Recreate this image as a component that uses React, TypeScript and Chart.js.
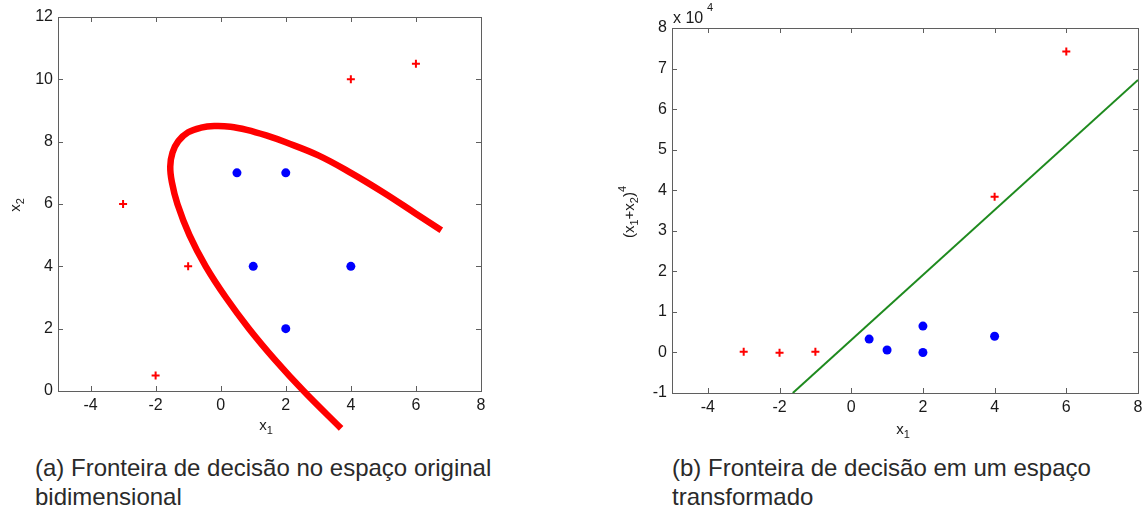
import React, { useEffect, useRef } from "react";
import { Chart, registerables } from "chart.js";

Chart.register(...registerables);

// ---------- data (a): original space ----------
const redX1 = [-3, -2, -1, 4, 6];
const redY1 = [6, 0.5, 4, 10, 10.5];
const blueX1 = [0.5, 2, 1, 4, 2];
const blueY1 = [7, 7, 4, 4, 2];
const curveX = [3.7, 2.55, 1.67, 0.87, 0.16, -0.46, -0.96, -1.33, -1.5, -1.55, -1.48, -1.3, -1.0, -0.6, -0.2, 0.3, 0.8, 1.4, 2.0, 3.0, 4.0, 5.0, 6.0, 6.78];
const curveY = [-1.2, 0, 1, 2, 3, 4, 5, 6, 6.7, 7.2, 7.65, 8.02, 8.3, 8.45, 8.5, 8.48, 8.38, 8.2, 7.98, 7.56, 7.0, 6.37, 5.69, 5.16];
const xTicks = [-4, -2, 0, 2, 4, 6, 8];
const yTicks1 = [0, 2, 4, 6, 8, 10, 12];

// ---------- data (b): transformed space (units of 10^4) ----------
const redX2 = [-3, -2, -1, 4, 6];
const redY2 = [0.02, -0.01, 0.02, 3.84, 7.42];
const blueX2 = [0.5, 1, 2, 2, 4];
const blueY2 = [0.33, 0.06, 0.65, 0.0, 0.4];
const lineX = [-1.63, 8];
const lineY = [-1, 6.72];
const yTicks2 = [-1, 0, 1, 2, 3, 4, 5, 6, 7, 8];

const captionA = ["(a) Fronteira de decisão no espaço original", "bidimensional"];
const captionB = ["(b) Fronteira de decisão em um espaço", "transformado"];

const FONT = "'Liberation Sans', Arial, sans-serif";
const AXIS_COLOR = "#5f5f5f";
const TEXT_COLOR = "#1a1a1a";

type Seg = { t: string; sub?: boolean; sup?: boolean };

function drawRich(ctx: CanvasRenderingContext2D, segs: Seg[], x: number, y: number, size: number) {
  const small = Math.round(size * 0.7);
  let total = 0;
  const widths = segs.map((s) => {
    ctx.font = `${s.sub || s.sup ? small : size}px ${FONT}`;
    const w = ctx.measureText(s.t).width;
    total += w;
    return w;
  });
  let cx = x - total / 2;
  ctx.textBaseline = "middle";
  ctx.textAlign = "left";
  segs.forEach((s, i) => {
    ctx.font = `${s.sub || s.sup ? small : size}px ${FONT}`;
    const dy = s.sub ? size * 0.35 : s.sup ? -size * 0.45 : 0;
    ctx.fillText(s.t, cx, y + dy);
    cx += widths[i];
  });
}

function framePlugin(extra: (chart: any, ctx: CanvasRenderingContext2D) => void) {
  return {
    id: "frame",
    beforeDatasetsDraw(chart: any) {
      const { ctx, chartArea: a, scales } = chart;
      ctx.save();
      ctx.strokeStyle = AXIS_COLOR;
      ctx.lineWidth = 1;
      ctx.strokeRect(Math.round(a.left) + 0.5, Math.round(a.top) + 0.5, Math.round(a.right - a.left), Math.round(a.bottom - a.top));
      const tl = 5;
      ctx.beginPath();
      scales.x.ticks.forEach((t: any) => {
        const px = Math.round(scales.x.getPixelForValue(t.value)) + 0.5;
        ctx.moveTo(px, a.bottom);
        ctx.lineTo(px, a.bottom - tl);
        ctx.moveTo(px, a.top);
        ctx.lineTo(px, a.top + tl);
      });
      scales.y.ticks.forEach((t: any) => {
        const py = Math.round(scales.y.getPixelForValue(t.value)) + 0.5;
        ctx.moveTo(a.left, py);
        ctx.lineTo(a.left + tl, py);
        ctx.moveTo(a.right, py);
        ctx.lineTo(a.right - tl, py);
      });
      ctx.stroke();
      ctx.restore();
    },
    afterDraw(chart: any) {
      const ctx = chart.ctx;
      ctx.save();
      ctx.fillStyle = TEXT_COLOR;
      extra(chart, ctx);
      ctx.restore();
    },
  };
}

function pts(xs: number[], ys: number[]) {
  return xs.map((x, i) => ({ x, y: ys[i] }));
}

function makeOptions(yMin: number, yMax: number, yTicks: number[], pad: any, yWidth: number, xHeight: number) {
  return {
    responsive: false,
    animation: false,
    layout: { padding: pad },
    plugins: { legend: { display: false }, tooltip: { enabled: false } },
    scales: {
      x: {
        type: "linear",
        min: -5,
        max: 8,
        grid: { display: false, drawTicks: false },
        border: { display: false },
        afterBuildTicks: (s: any) => {
          s.ticks = xTicks.map((v) => ({ value: v }));
        },
        afterFit: (s: any) => {
          s.height = xHeight;
        },
        ticks: { font: { family: FONT, size: 16 }, color: TEXT_COLOR, padding: 5, maxRotation: 0 },
      },
      y: {
        type: "linear",
        min: yMin,
        max: yMax,
        grid: { display: false, drawTicks: false },
        border: { display: false },
        afterBuildTicks: (s: any) => {
          s.ticks = yTicks.map((v) => ({ value: v }));
        },
        afterFit: (s: any) => {
          s.width = yWidth;
        },
        ticks: { font: { family: FONT, size: 16 }, color: TEXT_COLOR, padding: 5 },
      },
    },
  };
}

function ChartA() {
  const ref = useRef<HTMLCanvasElement>(null);
  useEffect(() => {
    const chart = new Chart(ref.current as HTMLCanvasElement, {
      type: "scatter",
      data: {
        datasets: [
          {
            data: pts(curveX, curveY),
            showLine: true,
            borderColor: "#ff0000",
            backgroundColor: "#ff0000",
            borderWidth: 6.5,
            pointRadius: 0,
            tension: 0.4,
            clip: false,
            borderCapStyle: "butt",
            borderJoinStyle: "round",
            order: 1,
          } as any,
          {
            data: pts(redX1, redY1),
            pointStyle: "cross",
            pointRadius: 4,
            borderWidth: 2,
            borderColor: "#ff0000",
            backgroundColor: "#ff0000",
            order: 2,
          },
          {
            data: pts(blueX1, blueY1),
            pointStyle: "circle",
            pointRadius: 4.5,
            borderWidth: 0,
            borderColor: "#0000ff",
            backgroundColor: "#0000ff",
            order: 3,
          },
        ],
      },
      options: makeOptions(0, 12, yTicks1, { top: 17, right: 59, left: 0, bottom: 0 }, 58, 49) as any,
      plugins: [
        framePlugin((chart, ctx) => {
          drawRich(ctx, [{ t: "x" }, { t: "1", sub: true }], 266, 426, 15);
          ctx.save();
          ctx.translate(16, 205);
          ctx.rotate(-Math.PI / 2);
          drawRich(ctx, [{ t: "x" }, { t: "2", sub: true }], 0, 0, 15);
          ctx.restore();
        }),
      ],
    });
    return () => chart.destroy();
  }, []);
  return <canvas ref={ref} width={540} height={440} style={{ position: "absolute", left: 0, top: 0, width: 540, height: 440 }} />;
}

function ChartB() {
  const ref = useRef<HTMLCanvasElement>(null);
  useEffect(() => {
    const chart = new Chart(ref.current as HTMLCanvasElement, {
      type: "scatter",
      data: {
        datasets: [
          {
            data: pts(lineX, lineY),
            showLine: true,
            borderColor: "#1e8a1e",
            borderWidth: 2,
            pointRadius: 0,
            order: 1,
          } as any,
          {
            data: pts(redX2, redY2),
            pointStyle: "cross",
            pointRadius: 4,
            borderWidth: 2,
            borderColor: "#ff0000",
            backgroundColor: "#ff0000",
            order: 2,
          },
          {
            data: pts(blueX2, blueY2),
            pointStyle: "circle",
            pointRadius: 4.5,
            borderWidth: 0,
            borderColor: "#0000ff",
            backgroundColor: "#0000ff",
            order: 3,
          },
        ],
      },
      options: makeOptions(-1, 8, yTicks2, { top: 28, right: 10, left: 0, bottom: 0 }, 98, 47) as any,
      plugins: [
        framePlugin((chart, ctx) => {
          drawRich(ctx, [{ t: "x" }, { t: "1", sub: true }], 329, 430, 15);
          ctx.save();
          ctx.translate(56, 212);
          ctx.rotate(-Math.PI / 2);
          drawRich(ctx, [{ t: "(x" }, { t: "1", sub: true }, { t: "+x" }, { t: "2", sub: true }, { t: ")" }, { t: "4", sup: true }], 0, 0, 15);
          ctx.restore();
          ctx.textAlign = "left";
          ctx.textBaseline = "alphabetic";
          ctx.font = `16px ${FONT}`;
          ctx.fillText("x 10", 99, 23);
          ctx.font = `11px ${FONT}`;
          ctx.fillText("4", 133, 11);
        }),
      ],
    });
    return () => chart.destroy();
  }, []);
  return <canvas ref={ref} width={574} height={440} style={{ position: "absolute", left: 574, top: 0, width: 574, height: 440 }} />;
}

const captionStyle: React.CSSProperties = {
  position: "absolute",
  top: 453,
  fontFamily: FONT,
  fontSize: 24,
  lineHeight: "29px",
  color: "#2a2a2a",
  whiteSpace: "nowrap",
};

export default function App() {
  return (
    <div style={{ position: "absolute", left: 0, top: 0, width: 1148, height: 515, background: "#fff", overflow: "hidden" }}>
      <ChartA />
      <ChartB />
      <div style={{ ...captionStyle, left: 35 }}>
        {captionA.map((l, i) => (
          <div key={i}>{l}</div>
        ))}
      </div>
      <div style={{ ...captionStyle, left: 672 }}>
        {captionB.map((l, i) => (
          <div key={i}>{l}</div>
        ))}
      </div>
    </div>
  );
}
